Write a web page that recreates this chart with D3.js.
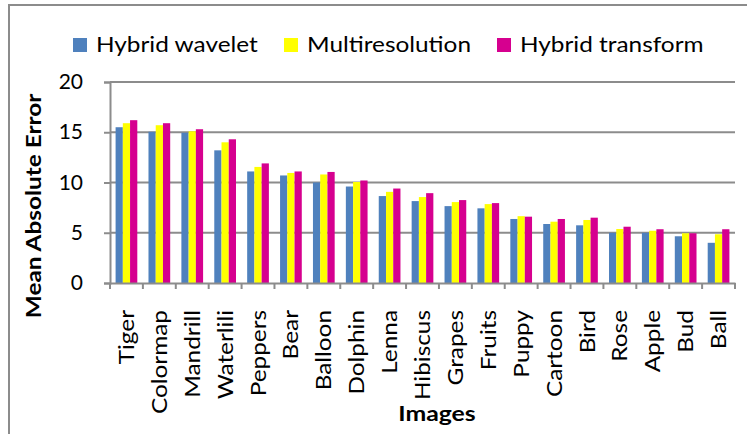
<!DOCTYPE html>
<html>
<head>
<meta charset="utf-8">
<script src="https://cdn.jsdelivr.net/npm/d3@7"></script>
<style>
  html, body { margin: 0; padding: 0; background: #fff; }
  svg { display: block; font-family: Lato, "Open Sans", sans-serif; }
</style>
</head>
<body>
<svg id="chart" width="747" height="434"></svg>
<script>
// Image names along the x axis
const images = ["Tiger", "Colormap", "Mandrill", "Waterlili", "Peppers", "Bear", "Balloon",
  "Dolphin", "Lenna", "Hibiscus", "Grapes", "Fruits", "Puppy", "Cartoon", "Bird", "Rose",
  "Apple", "Bud", "Ball"];

// Mean absolute error per image for each method
const hybridWavelet   = [15.5, 15.05, 14.95, 13.2, 11.1, 10.7, 10.0, 9.6, 8.65, 8.15, 7.65, 7.43, 6.37, 5.87, 5.74, 5.0, 5.0, 4.65, 4.0];
const multiresolution = [15.9, 15.7, 15.1, 14.0, 11.55, 10.95, 10.8, 10.05, 9.07, 8.55, 8.05, 7.85, 6.65, 6.1, 6.27, 5.37, 5.2, 4.95, 4.85];
const hybridTransform = [16.2, 15.9, 15.3, 14.3, 11.9, 11.1, 11.05, 10.2, 9.4, 8.94, 8.25, 7.95, 6.6, 6.37, 6.5, 5.6, 5.35, 4.95, 5.35];

const seriesNames = ["Hybrid wavelet", "Multiresolution", "Hybrid transform"];
const seriesColors = ["#4f81bd", "#ffff00", "#d6008f"];
const yTicks = [0, 5, 10, 15, 20];

const series = [hybridWavelet, multiresolution, hybridTransform];
const table = images.map((name, i) => ({ name, values: series.map(s => s[i]) }));

const svg = d3.select("#chart");
const plot = { left: 110, right: 735, top: 82, bottom: 283 };
const gridColor = "#8c8c8c";
// glyphs are drawn slightly widened along the reading direction
const stretch = 1.16;

// outer frame of the chart area
svg.append("path")
  .attr("d", "M9,434 L9,5 L747,5")
  .attr("fill", "none")
  .attr("stroke", gridColor)
  .attr("stroke-width", 2);

const x = d3.scaleBand()
  .domain(images)
  .range([plot.left, plot.right])
  .paddingInner(0.34)
  .paddingOuter(0.17);

const xs = d3.scaleBand()
  .domain(d3.range(series.length))
  .range([0, x.bandwidth()]);

const y = d3.scaleLinear().domain([0, 20]).range([plot.bottom, plot.top]);

// horizontal gridlines
svg.append("g")
  .selectAll("line")
  .data(yTicks.filter(t => t > 0))
  .join("line")
  .attr("x1", plot.left).attr("x2", plot.right)
  .attr("y1", d => y(d)).attr("y2", d => y(d))
  .attr("stroke", gridColor).attr("stroke-width", 2);

// y axis
const yAxis = svg.append("g")
  .attr("transform", `translate(${plot.left},0)`)
  .call(d3.axisLeft(y).tickValues(yTicks).tickSize(6).tickPadding(21));
yAxis.select(".domain").attr("stroke", gridColor).attr("stroke-width", 2);
yAxis.selectAll(".tick line").attr("stroke", gridColor).attr("stroke-width", 2);
yAxis.selectAll(".tick text")
  .attr("font-family", "Lato, sans-serif")
  .attr("font-size", 21)
  .attr("fill", "#000");

// bars
svg.append("g")
  .selectAll("g")
  .data(table)
  .join("g")
  .attr("transform", d => `translate(${x(d.name)},0)`)
  .selectAll("rect")
  .data(d => d.values.map((v, k) => ({ v, k })))
  .join("rect")
  .attr("x", d => xs(d.k))
  .attr("width", xs.bandwidth())
  .attr("y", d => y(d.v))
  .attr("height", d => y(0) - y(d.v))
  .attr("fill", d => seriesColors[d.k]);

// x axis line with category labels
const xAxis = svg.append("g")
  .attr("transform", `translate(0,${plot.bottom})`)
  .call(d3.axisBottom(x).tickSize(0).tickPadding(0));
xAxis.select(".domain").attr("stroke", gridColor).attr("stroke-width", 2);
xAxis.selectAll(".tick text")
  .attr("font-family", "Lato, sans-serif")
  .attr("font-size", 21)
  .attr("fill", "#000")
  .attr("text-anchor", "end")
  .attr("transform", `translate(0,27) rotate(-90) scale(${stretch},1)`)
  .attr("x", 0)
  .attr("y", 0)
  .attr("dy", "0.36em");

// tick marks on the category boundaries
svg.append("g")
  .selectAll("line")
  .data(d3.range(images.length + 1))
  .join("line")
  .attr("x1", i => plot.left + i * x.step())
  .attr("x2", i => plot.left + i * x.step())
  .attr("y1", plot.bottom)
  .attr("y2", plot.bottom + 6)
  .attr("stroke", gridColor).attr("stroke-width", 2);

// axis titles
svg.append("text")
  .attr("transform", `translate(41,206) rotate(-90) scale(${stretch},1)`)
  .attr("text-anchor", "middle")
  .attr("font-weight", "bold")
  .attr("font-size", 21)
  .text("Mean Absolute Error");

svg.append("text")
  .attr("transform", `translate(437,421) scale(1.18,1)`)
  .attr("text-anchor", "middle")
  .attr("font-weight", "bold")
  .attr("font-size", 21)
  .text("Images");

// legend
const legendX = [73, 284, 497];
const legend = svg.append("g")
  .selectAll("g")
  .data(seriesNames)
  .join("g")
  .attr("transform", (d, i) => `translate(${legendX[i]},38)`);
legend.append("rect")
  .attr("width", 14).attr("height", 14)
  .attr("fill", (d, i) => seriesColors[i]);
legend.append("text")
  .attr("transform", `translate(23,14) scale(${stretch},1)`)
  .attr("font-size", 21)
  .text(d => d);
</script>
</body>
</html>
